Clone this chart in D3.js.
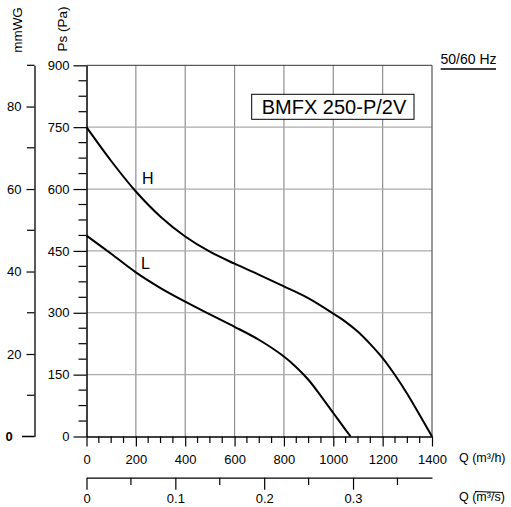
<!DOCTYPE html>
<html><head><meta charset="utf-8">
<script src="https://cdn.jsdelivr.net/npm/d3@7"></script>
<style>
html,body{margin:0;padding:0;background:#fff;}
svg{display:block;font-family:"Liberation Sans",Arial,sans-serif;}
</style></head>
<body>
<svg id="c" width="511" height="507"></svg>
<script>
// ---- data ----
const qTicksH = [0,200,400,600,800,1000,1200,1400];
const qTicksS = [0,0.1,0.2,0.3];
const paTicks = [0,150,300,450,600,750,900];
const mmTicks = [0,20,40,60,80];
const hQ = [0,100,200,300,400,500,600,700,800,900,1000,1050,1100,1150,1200,1250,1300,1350,1400];
const hP = [750,668,594,533,485,448,419,392,364,335,298,278,254,224,190,149,103,52,0];
const lQ = [0,100,200,300,400,500,600,700,800,850,900,950,1000,1050,1070];
const lP = [487,443,398,360,327,296,266,234,194,168,137,98,57,16,0];
const title = "BMFX 250-P/2V";
const freq = "50/60 Hz";

const FONT = "Liberation Sans, Arial, sans-serif";
const svg = d3.select("#c");
const x = d3.scaleLinear().domain([0,1400]).range([86.5,432]);
const y = d3.scaleLinear().domain([0,900]).range([436.5,65.3]);
const xs = d3.scaleLinear().domain([0,1400/3600]).range([86.5,432]);
const ymm = d3.scaleLinear().domain([0,90]).range([436.5,65.3]);

// grid
const g = svg.append("g");
g.selectAll("line.v").data(qTicksH.slice(1,-1)).enter().append("line")
  .attr("x1",d=>x(d)).attr("x2",d=>x(d)).attr("y1",y(0)).attr("y2",y(900))
  .attr("stroke","#8f8f8f").attr("stroke-width",1.2);
g.selectAll("line.h").data(paTicks.slice(1,-1)).enter().append("line")
  .attr("x1",x(0)).attr("x2",x(1400)).attr("y1",d=>y(d)).attr("y2",d=>y(d))
  .attr("stroke","#ababab").attr("stroke-width",1.2);
g.append("line").attr("x1",x(0)).attr("x2",x(1400)).attr("y1",y(900)).attr("y2",y(900)).attr("stroke","#333").attr("stroke-width",1);
g.append("line").attr("x1",x(1400)).attr("x2",x(1400)).attr("y1",y(0)).attr("y2",y(900)).attr("stroke","#555").attr("stroke-width",1.2);

function styleAxis(a, fs){
  a.selectAll(".tick line").attr("stroke","#000").attr("stroke-width",1.2);
  a.selectAll("text").attr("font-size",fs).attr("fill","#000").attr("font-family",FONT);
}

// Pa axis
const pa = svg.append("g").attr("transform",`translate(${x(0)},0)`);
pa.call(d3.axisLeft(y).tickValues(paTicks).tickSize(13).tickPadding(4).tickSizeOuter(0));
styleAxis(pa,13);
pa.select(".domain").attr("stroke","#000").attr("stroke-width",1.5);
const paMinor = d3.range(0,901,37.5).filter(v=>v%150!==0);
svg.selectAll("line.pm").data(paMinor).enter().append("line")
  .attr("x1",x(0)-8).attr("x2",x(0)).attr("y1",d=>y(d)).attr("y2",d=>y(d))
  .attr("stroke","#000").attr("stroke-width",1.2);

// mmWG axis
const mm = svg.append("g").attr("transform","translate(34.5,0)");
mm.call(d3.axisLeft(ymm).tickValues(mmTicks.slice(1)).tickSize(8).tickPadding(5).tickSizeOuter(0));
styleAxis(mm,13);
mm.select(".domain").attr("stroke","#000").attr("stroke-width",1.3);
svg.selectAll("line.mm").data([10,30,50,70,90]).enter().append("line")
  .attr("x1",27).attr("x2",34.5).attr("y1",d=>ymm(d)).attr("y2",d=>ymm(d))
  .attr("stroke","#000").attr("stroke-width",1.2);
svg.append("line").attr("x1",22).attr("x2",34.5).attr("y1",ymm(0)).attr("y2",ymm(0)).attr("stroke","#000").attr("stroke-width",1.5);
svg.append("text").attr("x",9).attr("y",ymm(0)+4.5).attr("text-anchor","middle").attr("font-size",13).attr("font-weight","bold").text(mmTicks[0]);

// bottom Q m3/h axis
const xa = svg.append("g").attr("transform",`translate(0,${y(0)})`);
xa.call(d3.axisBottom(x).tickValues(qTicksH).tickSize(10).tickPadding(8).tickSizeOuter(0).tickFormat(d3.format("d")));
styleAxis(xa,13);
xa.select(".domain").attr("stroke","#000").attr("stroke-width",1.5);
const qMinor = d3.range(50,1400,50).filter(v=>v%200!==0);
svg.selectAll("line.qm").data(qMinor).enter().append("line")
  .attr("x1",d=>x(d)).attr("x2",d=>x(d)).attr("y1",y(0)).attr("y2",y(0)+6.5)
  .attr("stroke","#000").attr("stroke-width",1.2);

// second axis m3/s
const xb = svg.append("g").attr("transform","translate(0,477.7)");
xb.call(d3.axisBottom(xs).tickValues(qTicksS).tickSize(12).tickPadding(4).tickSizeOuter(0).tickFormat(d=>d===0?"0":d3.format(".1f")(d)));
styleAxis(xb,13);
xb.select(".domain").attr("stroke","#000").attr("stroke-width",1.3);
svg.selectAll("line.sm").data([0.05,0.15,0.25,0.35]).enter().append("line")
  .attr("x1",d=>xs(d)).attr("x2",d=>xs(d)).attr("y1",477.7).attr("y2",485)
  .attr("stroke","#000").attr("stroke-width",1.2);

// curves
const line = d3.line().x(d=>x(d[0])).y(d=>y(d[1])).curve(d3.curveCatmullRom.alpha(0.5));
svg.append("path").datum(hQ.map((q,i)=>[q,hP[i]])).attr("d",line)
  .attr("fill","none").attr("stroke","#000").attr("stroke-width",2);
svg.append("path").datum(lQ.map((q,i)=>[q,lP[i]])).attr("d",line)
  .attr("fill","none").attr("stroke","#000").attr("stroke-width",2);
svg.append("text").attr("x",142).attr("y",183.5).attr("font-size",16).text("H");
svg.append("text").attr("x",141).attr("y",268.5).attr("font-size",16).text("L");

// title box
svg.append("rect").attr("x",251.7).attr("y",94.3).attr("width",162.3).attr("height",25)
  .attr("fill","#fff").attr("stroke","#000").attr("stroke-width",1);
svg.append("text").attr("x",334).attr("y",113.5).attr("text-anchor","middle").attr("font-size",20).text(title);

// freq
svg.append("text").attr("x",468.5).attr("y",64).attr("text-anchor","middle").attr("font-size",14).text(freq);
svg.append("line").attr("x1",440.7).attr("x2",496).attr("y1",69).attr("y2",69).attr("stroke","#000").attr("stroke-width",1.3);

// axis titles
svg.append("text").attr("transform","translate(21.5,30) rotate(-90)").attr("text-anchor","middle").attr("font-size",13.5).text("mmWG");
svg.append("text").attr("transform","translate(66.5,29) rotate(-90)").attr("text-anchor","middle").attr("font-size",13.5).text("Ps (Pa)");
svg.append("text").attr("x",459).attr("y",462).attr("font-size",12.5).text("Q (m³/h)");
svg.append("text").attr("x",459).attr("y",501).attr("font-size",12.5).text("Q (m³/s)");
svg.append("line").attr("x1",475).attr("x2",503).attr("y1",491.5).attr("y2",492.5).attr("stroke","#000").attr("stroke-width",1);
</script>
</body></html>
